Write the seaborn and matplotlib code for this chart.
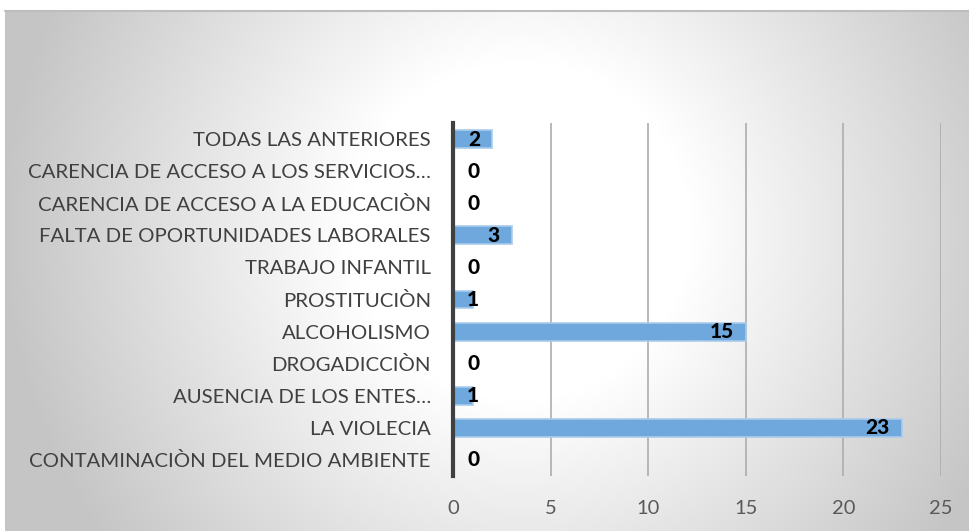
import numpy as np
import pandas as pd
import matplotlib
matplotlib.use("Agg")
import matplotlib.pyplot as plt
import seaborn as sns

categories = [
    "TODAS LAS ANTERIORES",
    "CARENCIA DE ACCESO A LOS SERVICIOS…",
    "CARENCIA DE ACCESO A LA EDUCACIÒN",
    "FALTA DE OPORTUNIDADES LABORALES",
    "TRABAJO INFANTIL",
    "PROSTITUCIÒN",
    "ALCOHOLISMO",
    "DROGADICCIÒN",
    "AUSENCIA DE LOS ENTES…",
    "LA VIOLECIA",
    "CONTAMINACIÒN DEL MEDIO AMBIENTE",
]
values = [2, 0, 0, 3, 0, 1, 15, 0, 1, 23, 0]
xticks = [0, 5, 10, 15, 20, 25]

sns.set_theme(style="white")
plt.rcParams["font.family"] = ["Lato", "DejaVu Sans"]

W, H = 969, 531
fig = plt.figure(figsize=(W / 100, H / 100), dpi=100)

# radial gradient background
bg = fig.add_axes([5 / W, 0, 1 - 5 / W, 1 - 11 / H])
bg.set_axis_off()
xs = np.arange(5, W)
ys = np.arange(11, H)
X, Y = np.meshgrid(xs, ys)
d = np.sqrt((X - 520) ** 2 + (Y - 230) ** 2)
f = np.clip((d - 170) / 350, 0, 1)
g = (255 - 58 * f) / 255
img = np.dstack([g, g, g])
bg.imshow(img, aspect="auto", extent=[0, 1, 0, 1], origin="upper")
bg.plot([0, 1], [1, 1], color="#bdbdbd", lw=1.5, transform=bg.transAxes, clip_on=False)

ax = fig.add_axes([453 / W, 1 - 476 / H, 488 / W, 353 / H])
ax.patch.set_alpha(0)
df = pd.DataFrame({"cat": categories, "val": values})
sns.barplot(data=df, x="val", y="cat", orient="h", color="#6fa8dc", saturation=1,
            width=0.56, edgecolor="#a9cbeb", linewidth=1.2, ax=ax)
ax.set_xlim(0, 25)
ax.set_ylim(10.5, -0.5)
ax.set_xticks(xticks)
ax.set_xticklabels([str(t) for t in xticks])
for t in xticks[1:]:
    ax.axvline(t, color="#adadad", lw=1.2, zorder=0)
for s in ["top", "right", "bottom"]:
    ax.spines[s].set_visible(False)
ax.spines["left"].set_color("#404040")
ax.spines["left"].set_linewidth(3)
ax.spines["left"].set_zorder(5)
ax.set_xlabel("")
ax.set_ylabel("")
ax.tick_params(axis="x", length=0, pad=17, labelsize=14.5, labelcolor="#595959")
ax.tick_params(axis="y", length=0, pad=16, labelsize=14.7, labelcolor="#404040")

px = 25 / 488  # data units per pixel
for i, v in enumerate(values):
    wpx = 12 * len(str(v))
    right = v - 12 * px
    left = right - wpx * px
    if left < 14 * px:
        ax.text(14 * px, i, str(v), ha="left", va="center", fontsize=15,
                fontweight="black", color="black", zorder=6)
    else:
        ax.text(right, i, str(v), ha="right", va="center", fontsize=15,
                fontweight="black", color="black", zorder=6)

fig.savefig("out.png", dpi=100)
